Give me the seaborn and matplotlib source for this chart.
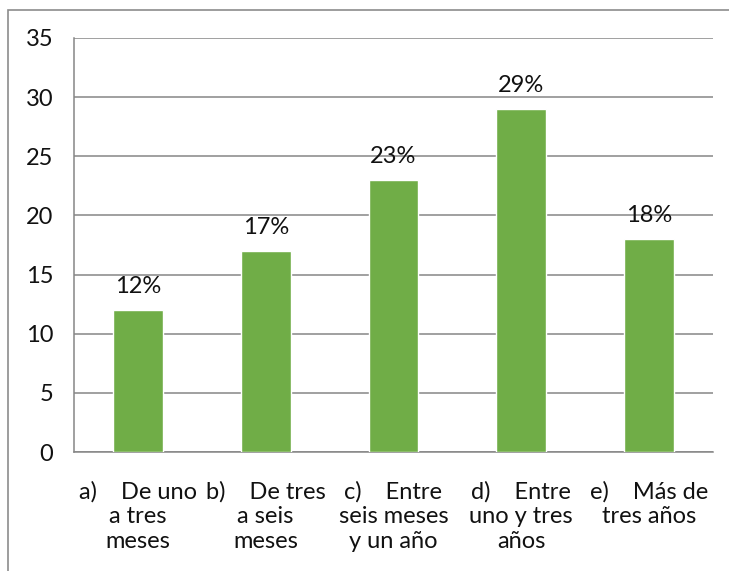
import numpy as np
import pandas as pd
import seaborn as sns
import matplotlib.pyplot as plt
from matplotlib.patches import Rectangle

categories = [
    "a)    De uno\na tres\nmeses",
    "b)    De tres\na seis\nmeses",
    "c)    Entre\nseis meses\ny un año",
    "d)    Entre\nuno y tres\naños",
    "e)    Más de\ntres años",
]
values = [12, 17, 23, 29, 18]
bar_labels = ["12%", "17%", "23%", "29%", "18%"]

df = pd.DataFrame({"categoria": categories, "valor": values})

sns.set_style("white")
plt.rcParams['font.family'] = ['Lato', 'DejaVu Sans']

GREEN = "#70AD47"
GRID = "#868686"

fig = plt.figure(figsize=(7.29, 5.71), dpi=100)
ax = fig.add_axes([0.1015, 0.2084, 0.8765, 0.7251])

sns.barplot(data=df, x="categoria", y="valor", color=GREEN, width=0.39,
            saturation=1, ax=ax, zorder=3)

ax.set_ylim(0, 35)
ax.set_xlim(-0.5, len(categories) - 0.5)
ax.set_yticks(np.arange(0, 36, 5))
ax.yaxis.grid(True, color=GRID, linewidth=1.1, zorder=0)
ax.set_xlabel("")
ax.set_ylabel("")

for i, (v, lab) in enumerate(zip(values, bar_labels)):
    ax.text(i, v + 1.1, lab, ha="center", va="bottom", fontsize=17, color="#111111")

ax.set_xticks(np.arange(len(categories)))
ax.set_xticklabels(categories, fontsize=17, linespacing=1.22, va="top", color="#111111")
ax.set_xticks(np.arange(-0.5, len(categories)), minor=True)
ax.tick_params(axis="x", which="major", length=0, pad=21)
ax.tick_params(axis="x", which="minor", length=7, color=GRID, width=1.1, direction="out")
ax.tick_params(axis="y", length=7, color=GRID, width=1.1, direction="out",
               labelsize=17, pad=8, labelcolor="#111111")

for side in ["top", "right"]:
    ax.spines[side].set_visible(False)
for side in ["left", "bottom"]:
    ax.spines[side].set_color(GRID)
    ax.spines[side].set_linewidth(1.1)

fig.patches.append(Rectangle((8 / 729, -0.1), 1.2, 1 - 10 / 571 + 0.1,
                             transform=fig.transFigure, fill=False,
                             edgecolor="#8c8c8c", linewidth=1.2))

fig.savefig("out.png", dpi=100)
